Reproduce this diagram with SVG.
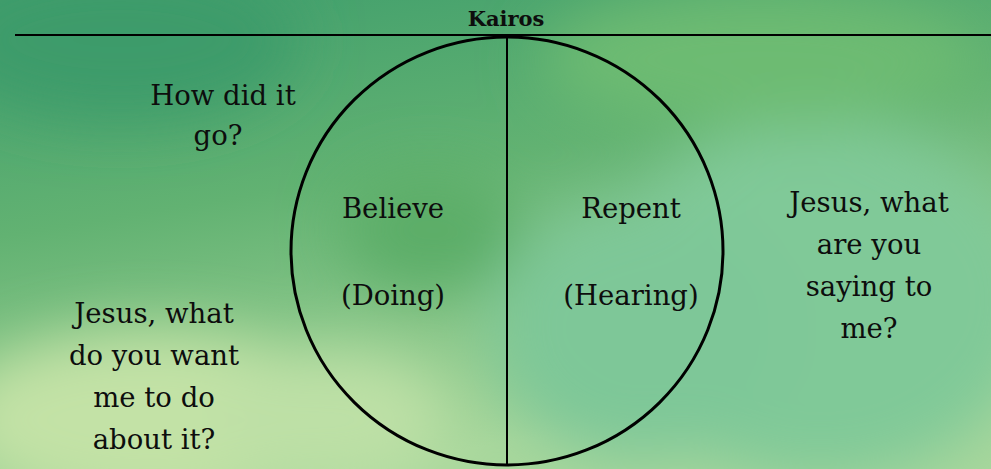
<svg xmlns="http://www.w3.org/2000/svg" width="991" height="469" viewBox="0 0 991 469">
  <defs>
    <linearGradient id="bg" x1="0" y1="0" x2="0.35" y2="1">
      <stop offset="0" stop-color="#3f9e6c"/>
      <stop offset="0.45" stop-color="#62b272"/>
      <stop offset="1" stop-color="#a8d79c"/>
    </linearGradient>
    <filter id="blur" x="-50%" y="-50%" width="200%" height="200%">
      <feGaussianBlur stdDeviation="30"/>
    </filter>
    <style>
      .t { font-family: "DejaVu Serif", "Liberation Serif", serif; font-size: 27.5px; fill: #0d0d0d; text-anchor: middle; }
      .title { font-family: "DejaVu Serif", "Liberation Serif", serif; font-size: 21px; font-weight: bold; fill: #0d0d0d; text-anchor: middle; }
      .ln { stroke: #000; fill: none; }
    </style>
  </defs>
  <g id="background">
    <rect width="991" height="469" fill="url(#bg)"/>
    <g filter="url(#blur)">
      <ellipse cx="820" cy="300" rx="220" ry="180" fill="#80c998"/>
      <ellipse cx="640" cy="330" rx="150" ry="130" fill="#7ec798"/>
      <ellipse cx="760" cy="60" rx="220" ry="70" fill="#6dbb72"/>
      <ellipse cx="150" cy="420" rx="200" ry="90" fill="#c3e2a6"/>
      <ellipse cx="330" cy="420" rx="120" ry="70" fill="#bde0a6"/>
      <ellipse cx="120" cy="40" rx="180" ry="80" fill="#3c9b6a"/>
      <ellipse cx="430" cy="230" rx="90" ry="60" fill="#5cad68"/>
    </g>
  </g>
  <g id="title">
    <text class="title" x="506" y="26">Kairos</text>
  </g>
  <g id="connectors">
    <line class="ln" x1="15" y1="35" x2="991" y2="35" stroke-width="2"/>
    <line class="ln" x1="507" y1="37" x2="507" y2="464" stroke-width="2"/>
  </g>
  <g id="circle">
    <ellipse class="ln" cx="507" cy="251" rx="216" ry="214" stroke-width="3"/>
  </g>
  <g id="believe">
    <text class="t" x="393" y="218">Believe</text>
    <text class="t" x="393" y="305">(Doing)</text>
  </g>
  <g id="repent">
    <text class="t" x="631" y="218">Repent</text>
    <text class="t" x="631" y="305">(Hearing)</text>
  </g>
  <g id="how-did-it-go">
    <text class="t" x="223" y="105">How did it</text>
    <text class="t" x="218" y="145">go?</text>
  </g>
  <g id="jesus-saying">
    <text class="t" x="869" y="212">Jesus, what</text>
    <text class="t" x="869" y="254">are you</text>
    <text class="t" x="869" y="296">saying to</text>
    <text class="t" x="869" y="338">me?</text>
  </g>
  <g id="jesus-do">
    <text class="t" x="154" y="323">Jesus, what</text>
    <text class="t" x="154" y="365">do you want</text>
    <text class="t" x="154" y="407">me to do</text>
    <text class="t" x="154" y="449">about it?</text>
  </g>
</svg>
